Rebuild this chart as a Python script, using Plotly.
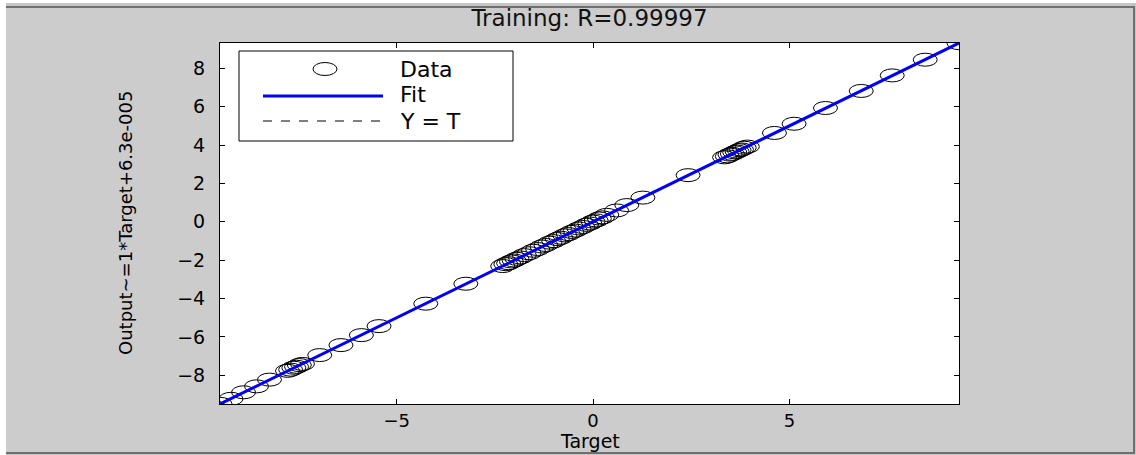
import plotly.graph_objects as go

# Training set: network targets and the corresponding outputs
targets = [-9.50, -9.22, -8.90, -8.57, -8.24, -7.78, -7.70, -7.62, -7.55, -7.48, -7.40,
           -6.96, -6.42, -5.90, -5.45, -4.26, -3.24,
           -2.30, -2.22, -2.15, -2.08, -2.01, -1.94, -1.85, -1.75, -1.63, -1.52, -1.41,
           -1.30, -1.20, -1.10, -1.00, -0.91, -0.82, -0.72, -0.63, -0.54, -0.45, -0.36,
           -0.26, -0.17, -0.08, 0.00, 0.08, 0.16, 0.24, 0.35, 0.60, 0.86, 1.27, 2.42,
           3.35, 3.42, 3.49, 3.55, 3.61, 3.67, 3.72, 3.78, 3.85, 3.93,
           4.62, 5.12, 5.92, 6.83, 7.62, 8.46, 9.32]
outputs = [-9.49, -9.23, -8.89, -8.58, -8.23, -7.77, -7.71, -7.61, -7.56, -7.47, -7.41,
           -6.95, -6.43, -5.91, -5.44, -4.27, -3.23,
           -2.31, -2.21, -2.16, -2.07, -2.02, -1.93, -1.86, -1.74, -1.64, -1.51, -1.42,
           -1.29, -1.21, -1.09, -1.01, -0.90, -0.83, -0.71, -0.64, -0.53, -0.46, -0.35,
           -0.27, -0.16, -0.09, 0.01, 0.07, 0.17, 0.23, 0.36, 0.59, 0.87, 1.26, 2.43,
           3.36, 3.41, 3.50, 3.54, 3.62, 3.66, 3.73, 3.77, 3.86, 3.92,
           4.63, 5.11, 5.93, 6.82, 7.63, 8.45, 9.31]

# Linear fit reported on the y-axis label
fit_slope = 1.0
fit_intercept = 6.3e-005
r_value = "0.99997"

x_ticks = [-5, 0, 5]
y_ticks = [-8, -6, -4, -2, 0, 2, 4, 6, 8]

lo = min(min(targets), min(outputs))
hi = max(max(targets), max(outputs))

W, H = 1136, 455
L, R, T, B = 220, 959, 43, 404   # plot-area box in pixels
FONT = "DejaVu Sans"


def px(x):
    return (x - L) / (R - L)


def py(y):
    return (B - y) / (B - T)


fig = go.Figure()

# Y = T reference line (dashed) and the fitted line on top of it
fig.add_trace(go.Scatter(
    x=[lo, hi], y=[lo, hi], mode="lines",
    line=dict(color="black", width=1, dash="dash"),
    showlegend=False, hoverinfo="skip"))
fig.add_trace(go.Scatter(
    x=[lo, hi], y=[fit_slope * lo + fit_intercept, fit_slope * hi + fit_intercept],
    mode="lines", line=dict(color="#0000ff", width=3),
    showlegend=False, hoverinfo="skip"))

shapes = [
    # figure window background with its frame
    dict(type="rect", xref="paper", yref="paper", x0=px(6), x1=px(1136), y0=py(455), y1=py(3),
         fillcolor="#c6c6c6", line=dict(width=0), layer="below"),
    dict(type="rect", xref="paper", yref="paper", x0=px(6), x1=px(1135), y0=py(454), y1=py(6),
         fillcolor="#6f6f6f", line=dict(width=0), layer="below"),
    dict(type="rect", xref="paper", yref="paper", x0=px(6), x1=px(1133), y0=py(452), y1=py(8),
         fillcolor="#cccccc", line=dict(width=0), layer="below"),
    # white axes area
    dict(type="rect", xref="paper", yref="paper", x0=0, x1=1, y0=0, y1=1,
         fillcolor="white", line=dict(width=0), layer="below"),
]

# open elliptical data markers, anchored at each (target, output)
for t, o in zip(targets, outputs):
    shapes.append(dict(type="circle", xref="x", yref="y",
                       xsizemode="pixel", ysizemode="pixel",
                       xanchor=t, yanchor=o, x0=-12, x1=12, y0=-6.5, y1=6.5,
                       line=dict(color="black", width=1), layer="below"))

# legend box and its samples
shapes += [
    dict(type="rect", xref="paper", yref="paper", x0=px(239), x1=px(513), y0=py(141), y1=py(51),
         fillcolor="white", line=dict(color="black", width=1), layer="above"),
    dict(type="circle", xref="paper", yref="paper", x0=px(313), x1=px(337), y0=py(75.5), y1=py(62.5),
         line=dict(color="black", width=1), layer="above"),
    dict(type="line", xref="paper", yref="paper", x0=px(263), x1=px(383), y0=py(96), y1=py(96),
         line=dict(color="#0000ff", width=3), layer="above"),
    dict(type="line", xref="paper", yref="paper", x0=px(263), x1=px(383), y0=py(121), y1=py(121),
         line=dict(color="black", width=1, dash="dash"), layer="above"),
]

legend_font = dict(family=FONT, size=22, color="black")
annotations = [
    dict(text="Data", x=px(398), y=py(69), xref="paper", yref="paper",
         xanchor="left", yanchor="middle", showarrow=False, font=legend_font),
    dict(text="Fit", x=px(398), y=py(95), xref="paper", yref="paper",
         xanchor="left", yanchor="middle", showarrow=False, font=legend_font),
    dict(text="Y = T", x=px(398), y=py(121), xref="paper", yref="paper",
         xanchor="left", yanchor="middle", showarrow=False, font=legend_font),
    # axis labels
    dict(text="Target", x=0.5, y=py(454), xref="paper", yref="paper",
         xanchor="center", yanchor="bottom", showarrow=False,
         font=dict(family=FONT, size=19, color="black")),
    dict(text="Output~=%g*Target+6.3e-005" % fit_slope, x=px(125), y=py(223),
         xref="paper", yref="paper", xanchor="center", yanchor="middle",
         textangle=-90, showarrow=False,
         font=dict(family=FONT, size=18, color="black")),
]

axis_common = dict(
    showline=True, linecolor="black", linewidth=1, mirror="allticks",
    ticks="inside", ticklen=5, tickcolor="black", tickwidth=1,
    showgrid=False, zeroline=False, range=[lo, hi],
)

fig.update_layout(
    width=W, height=H,
    margin=dict(l=L, r=W - R, t=T, b=H - B),
    paper_bgcolor="white", plot_bgcolor="white",
    showlegend=False,
    title=dict(text="Training: R=" + r_value, x=0.5, xref="paper",
               y=1 - 18 / H, yref="container", xanchor="center", yanchor="middle",
               font=dict(family=FONT, size=23, color="#111111")),
    xaxis=dict(tickvals=x_ticks, tickfont=dict(family=FONT, size=18, color="black"),
               **axis_common),
    yaxis=dict(tickvals=y_ticks, ticklabelstandoff=10,
               tickfont=dict(family=FONT, size=19, color="black"), **axis_common),
    shapes=shapes,
    annotations=annotations,
)

fig.write_html("out.html")
